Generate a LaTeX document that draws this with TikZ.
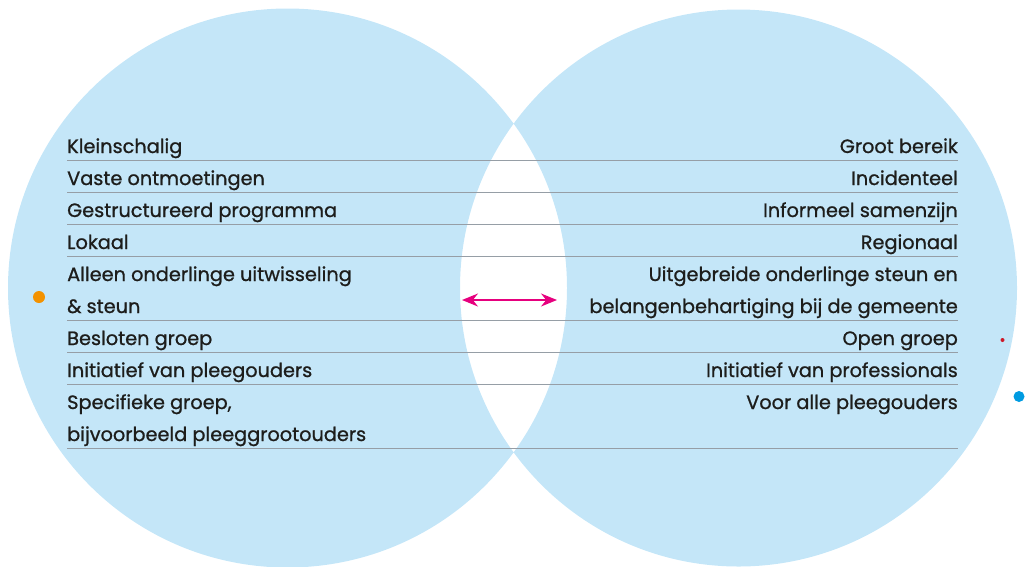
\documentclass[tikz,border=0pt]{standalone}
\usepackage{fontspec}
\setmainfont{Poppins}[FakeBold=0.9]
\usepackage{xcolor}
\usetikzlibrary{arrows.meta}
\definecolor{bubble}{RGB}{196,230,248}
\definecolor{rowrule}{RGB}{150,158,166}
\definecolor{ink}{RGB}{29,29,27}
\definecolor{pinkarrow}{RGB}{230,0,126}
\definecolor{dotorange}{RGB}{243,146,0}
\definecolor{dotred}{RGB}{205,25,40}
\definecolor{dotblue}{RGB}{0,155,225}
\tikzset{
	rowline/.style={draw=rowrule, line width=1.6pt},
	lefttext/.style={anchor=base west, inner sep=0pt, text=ink, font=\fontsize{19.3}{20}\selectfont},
	righttext/.style={anchor=base east, inner sep=0pt, text=ink, font=\fontsize{19.3}{20}\selectfont},
	both ways/.style={draw=pinkarrow, line width=1.5pt, {Stealth[length=16pt,width=13pt]}-{Stealth[length=16pt,width=13pt]}}
}
\begin{document}
\begin{tikzpicture}[x=1pt, y=-1pt]
	\useasboundingbox (0,0) rectangle (1025,566);
	
	% the two circles, overlap left white
	\fill[bubble, even odd rule] (287.5,288) circle[radius=279.5] (738.5,288) circle[radius=278.5];
	
	% rows
	\draw[rowline] (67,160.5) -- (958,160.5);
	\draw[rowline] (67,192.5) -- (958,192.5);
	\draw[rowline] (67,224.5) -- (958,224.5);
	\draw[rowline] (67,256.5) -- (958,256.5);
	\draw[rowline] (67,320.5) -- (958,320.5);
	\draw[rowline] (67,352.5) -- (958,352.5);
	\draw[rowline] (67,384.5) -- (958,384.5);
	\draw[rowline] (67,448.5) -- (958,448.5);
	
	% left column
	\node[lefttext] (kleinschalig) at (67,153) {Kleinschalig};
	\node[lefttext] (vaste) at (67,185) {Vaste ontmoetingen};
	\node[lefttext] (gestructureerd) at (67,217) {Gestructureerd programma};
	\node[lefttext] (lokaal) at (67,249) {Lokaal};
	\node[lefttext] (alleen) at (67,281) {Alleen onderlinge uitwisseling};
	\node[lefttext] (steun) at (67,313) {\& steun};
	\node[lefttext] (besloten) at (67,345) {Besloten groep};
	\node[lefttext] (initpleeg) at (67,377) {Initiatief van pleegouders};
	\node[lefttext] (specifiek) at (67,409) {Specifieke groep,};
	\node[lefttext] (bijvoorbeeld) at (67,441) {bijvoorbeeld pleeggrootouders};
	
	% right column
	\node[righttext] (groot) at (958,153) {Groot bereik};
	\node[righttext] (incidenteel) at (958,185) {Incidenteel};
	\node[righttext] (informeel) at (958,217) {Informeel samenzijn};
	\node[righttext] (regionaal) at (958,249) {Regionaal};
	\node[righttext] (uitgebreid) at (958,281) {Uitgebreide onderlinge steun en};
	\node[righttext] (belangen) at (958,313) {belangenbehartiging bij de gemeente};
	\node[righttext] (open) at (958,345) {Open groep};
	\node[righttext] (initprof) at (958,377) {Initiatief van professionals};
	\node[righttext] (alle) at (958,409) {Voor alle pleegouders};
	
	% arrow in the overlap
	\coordinate (arrowleft) at (462,300);
	\coordinate (arrowright) at (557,300);
	\draw[both ways] (arrowleft) -- (arrowright);
	
	% dots
	\fill[dotorange] (39,297) circle[radius=6];
	\fill[dotred] (1002.5,340) circle[radius=2];
	\fill[dotblue] (1019,396.5) circle[radius=5.5];
\end{tikzpicture}
\end{document}
